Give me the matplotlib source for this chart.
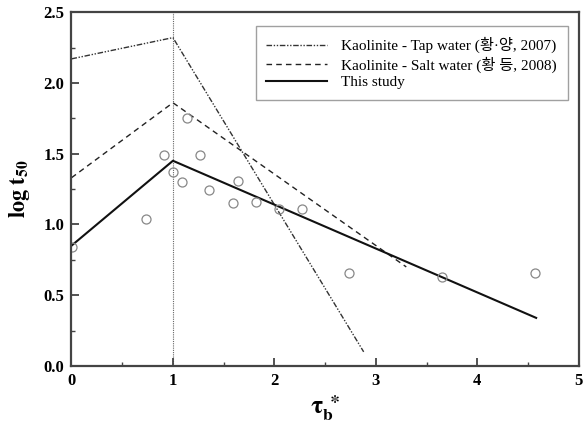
import matplotlib
matplotlib.use("Agg")
import matplotlib.pyplot as plt
from matplotlib.ticker import MultipleLocator, FuncFormatter

plt.rcParams['font.family'] = ['Liberation Serif', 'Noto Sans CJK KR']
plt.rcParams['mathtext.fontset'] = 'stix'

# Data
obs_x = [0.01, 0.73, 0.91, 1.00, 1.09, 1.14, 1.27, 1.36, 1.59, 1.64, 1.82, 2.05, 2.27, 2.74, 3.65, 4.57]
obs_y = [0.84, 1.04, 1.49, 1.37, 1.30, 1.75, 1.49, 1.24, 1.15, 1.31, 1.16, 1.11, 1.11, 0.66, 0.63, 0.66]

tap_x = [0.0, 1.0, 2.88]
tap_y = [2.17, 2.32, 0.10]

salt_x = [0.0, 1.0, 3.30]
salt_y = [1.33, 1.86, 0.70]

study_x = [0.0, 1.0, 4.58]
study_y = [0.85, 1.45, 0.34]

labels = ['Kaolinite - Tap water (황·양, 2007)',
          'Kaolinite - Salt water (황 등, 2008)',
          'This study']

fig = plt.figure(figsize=(5.84, 4.34), dpi=100)
ax = fig.add_axes([0.1224, 0.1567, 0.8686, 0.8153])

ax.axvline(1.0, color='#666666', lw=0.8, ls=(0, (1, 1)), zorder=1)
ax.plot(tap_x, tap_y, color='#333333', lw=1.0, ls=(0, (4, 1.2, 1, 1.2, 1, 1.2)), label=labels[0])
ax.plot(salt_x, salt_y, color='#222222', lw=1.0, ls=(0, (4, 3)), label=labels[1])
ax.plot(study_x, study_y, color='#111111', lw=1.5, ls='-', label=labels[2])
ax.plot(obs_x, obs_y, ls='none', marker='o', ms=6.5, mfc='none', mec='#888888', mew=0.9)

ax.set_xlim(0, 5)
ax.set_ylim(0, 2.5)
ax.xaxis.set_major_locator(MultipleLocator(1))
ax.xaxis.set_minor_locator(MultipleLocator(0.5))
ax.yaxis.set_major_locator(MultipleLocator(0.5))
ax.yaxis.set_minor_locator(MultipleLocator(0.25))
ax.xaxis.set_major_formatter(FuncFormatter(lambda v, p: f'{v:.0f}'))
ax.yaxis.set_major_formatter(FuncFormatter(lambda v, p: f'{v:.1f}'))
ax.tick_params(which='major', direction='in', length=6, width=1.3, color='#444444',
               labelsize=12, pad=5)
ax.tick_params(which='minor', direction='in', length=3, width=1.0, color='#444444')
for lab in ax.get_xticklabels() + ax.get_yticklabels():
    lab.set_fontweight('bold')
for s in ax.spines.values():
    s.set_linewidth(1.6)
    s.set_color('#444444')

ax.set_ylabel(r'$\mathbf{log\ t_{50}}$', fontsize=16, labelpad=8)
ax.set_xlabel(r'$\mathbf{\tau_{b}^{\ \ast}}$', fontsize=18, labelpad=3)

leg = ax.legend(loc='upper right', bbox_to_anchor=(0.993, 0.982), fontsize=11,
                handlelength=4.0, frameon=True, fancybox=False, borderpad=0.7,
                labelspacing=0.2, handletextpad=0.9)
leg.get_frame().set_edgecolor('#888888')
leg.get_frame().set_linewidth(1.0)

fig.savefig('out.png', dpi=100)
